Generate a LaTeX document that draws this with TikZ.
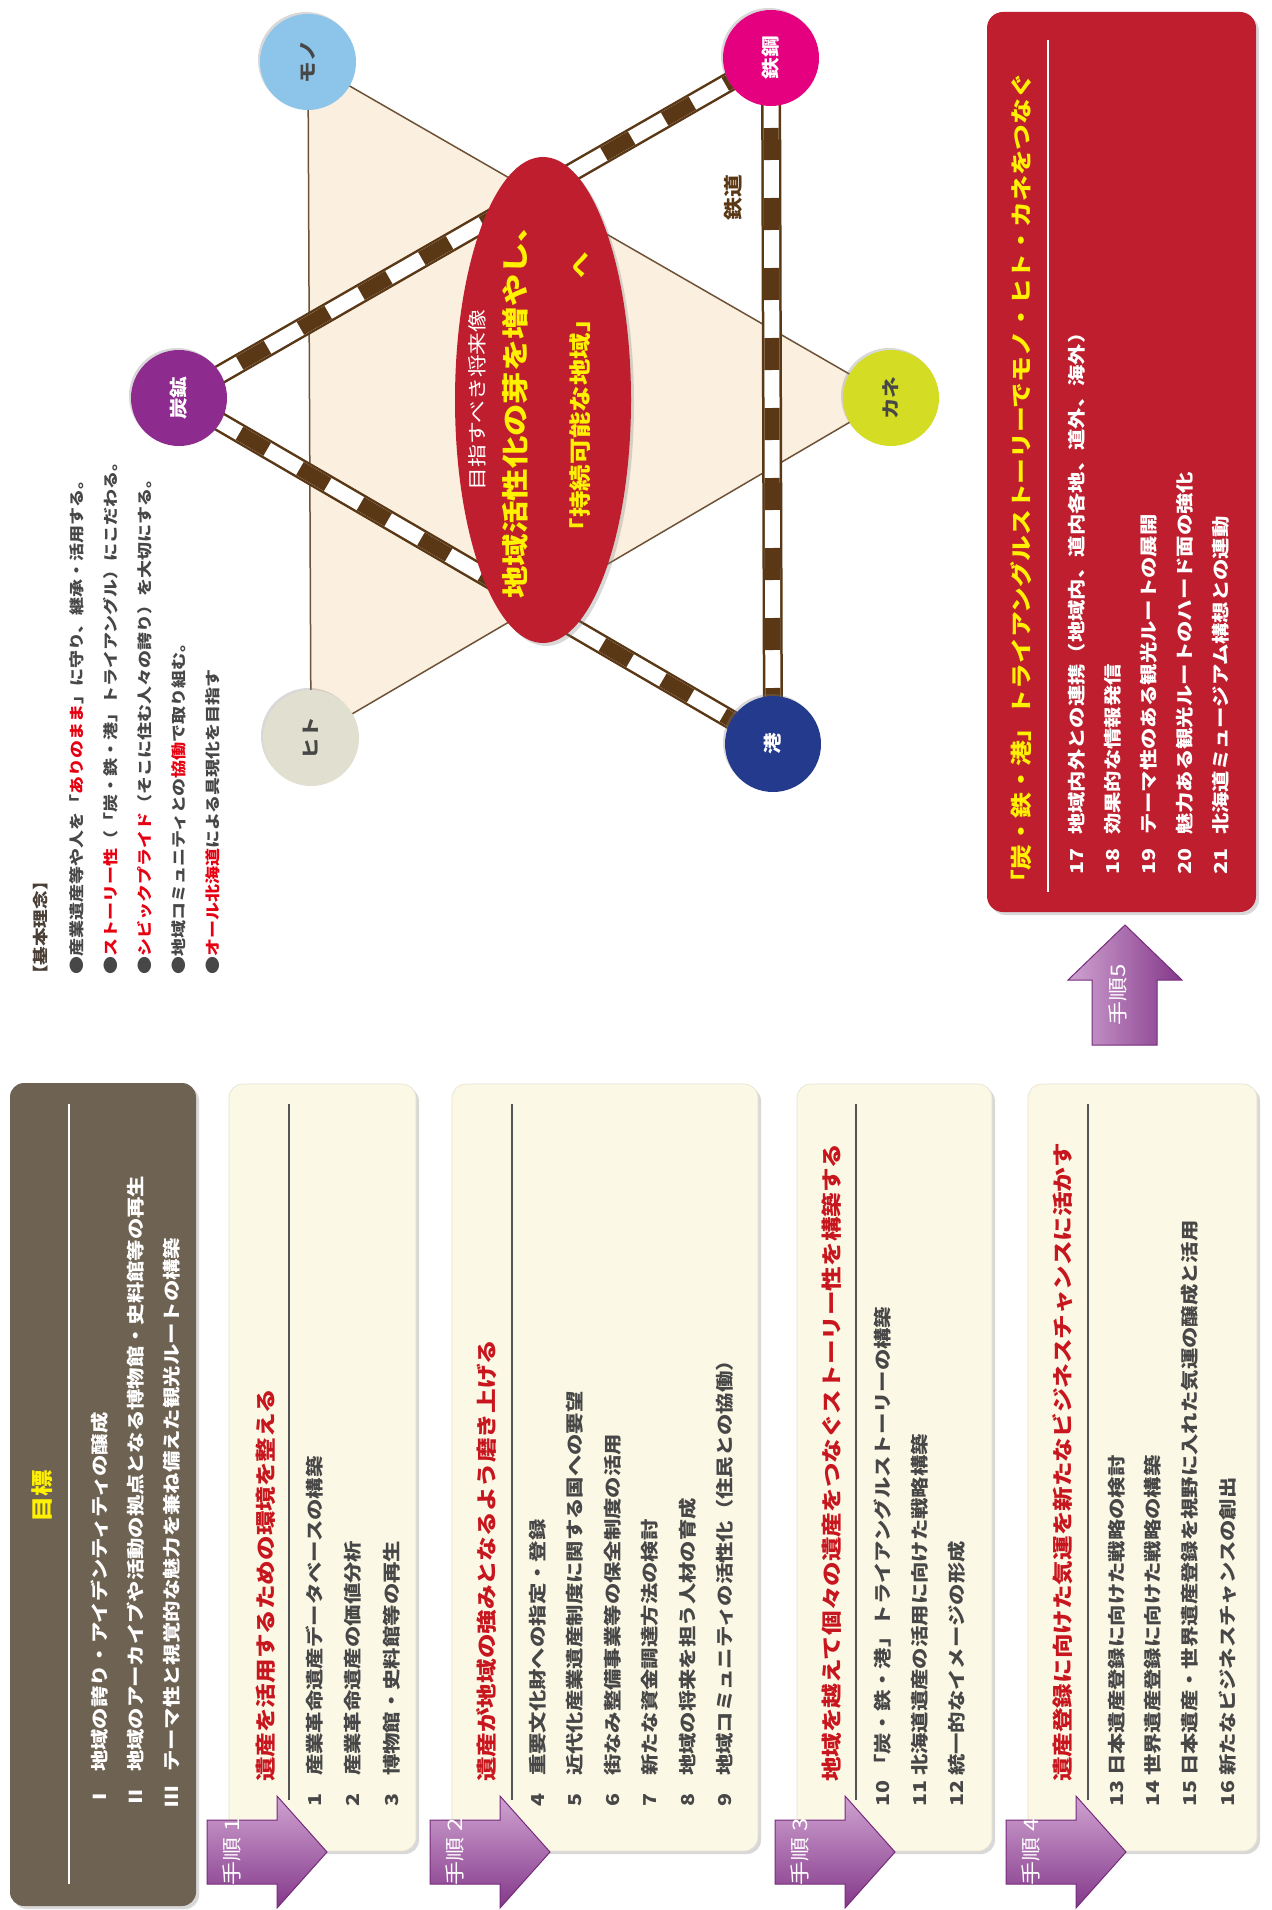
\documentclass[tikz,border=0pt]{standalone}
\usepackage{fontspec}
\setmainfont{Noto Sans CJK JP}[FakeStretch=1.2]
\usetikzlibrary{shapes.geometric,shadows}
\pgfdeclarelayer{back}
\pgfdeclarelayer{mid}
\pgfsetlayers{back,mid,main}
\definecolor{goalbg}{HTML}{6E6253}
\definecolor{creamfill}{HTML}{FCF8E6}
\definecolor{creamedge}{HTML}{E6E1CF}
\definecolor{titlered}{HTML}{C8161E}
\definecolor{itemgray}{HTML}{474747}
\definecolor{boxred}{HTML}{BE1E2D}
\definecolor{yel}{HTML}{FFF100}
\definecolor{railbrown}{HTML}{5A3816}
\definecolor{trifill}{HTML}{FBF0DF}
\definecolor{triedge}{HTML}{6E5238}
\definecolor{arrowlight}{HTML}{CFA3D1}
\definecolor{arrowdark}{HTML}{84388A}
\definecolor{arrowedge}{HTML}{762C7B}
\definecolor{cmono}{HTML}{8DC5EA}
\definecolor{ctekko}{HTML}{E4007F}
\definecolor{ctanko}{HTML}{8E2B8E}
\definecolor{ckane}{HTML}{D5DC24}
\definecolor{chito}{HTML}{E1DFCF}
\definecolor{cminato}{HTML}{243A8C}
\definecolor{brightred}{HTML}{E60012}
\definecolor{kihon}{HTML}{4A3F36}
\definecolor{sepgray}{HTML}{555555}
\newcommand\rowitem[4]{\node[itm] (#1n) at (#2,1807) {#3};\node[itm] (#1t) at (#2,1776) {#4};}
\newcommand\reditem[4]{\node[itm,text=white] (#1n) at (#2,875) {#3};\node[itm,text=white] (#1t) at (#2,835) {#4};}
\newcommand\steparrow[4]{%
  \path[arrowshade,top color=arrowlight,bottom color=arrowdark] (#2-22,#3-32) -- (#2+48,#3-32) -- (#2+48,#3-56) -- (#2+98,#3) -- (#2+48,#3+56) -- (#2+48,#3+32) -- (#2-22,#3+32) -- cycle;
  \node[arrowtext] (#1) at (#2+3,#3) {#4};}
\begin{document}
\begin{tikzpicture}[x=1pt,y=-1pt,
  itm/.style={rotate=90, anchor=west, inner sep=0pt, font=\bfseries\fontsize{17.8}{20}\selectfont, text=itemgray},
  ttl/.style={rotate=90, anchor=west, inner sep=0pt, font=\bfseries\fontsize{20.5}{24}\selectfont, text=titlered},
  kline/.style={rotate=90, anchor=west, inner sep=0pt, font=\bfseries\fontsize{15}{18}\selectfont, text=itemgray},
  cream/.style={rectangle, rounded corners=14pt, fill=creamfill, draw=creamedge, line width=0.6pt, inner sep=0pt, minimum height=767pt,
     drop shadow={shadow xshift=3pt, shadow yshift=-3pt, opacity=0.3}},
  sep/.style={draw=sepgray, line width=1.5pt},
  arrowshade/.style={draw=arrowedge, line width=1pt},
  arrowtext/.style={rotate=90, inner sep=0pt, text=white, font=\fontsize{20}{22}\selectfont},
  circ/.style={circle, minimum size=96pt, inner sep=0pt, rotate=90, font=\bfseries\fontsize{18}{20}\selectfont,
     drop shadow={shadow xshift=-2pt, shadow yshift=2pt, opacity=0.3}},
  rail/.style={draw=railbrown, line width=20pt,
     postaction={draw=white, line width=15pt},
     postaction={draw=railbrown, line width=15pt, dash pattern=on 32pt off 38pt}}]
\useasboundingbox (0,0) rectangle (1271,1910);
\begin{pgfonlayer}{back}
\fill[white] (0,0) rectangle (1271,1910);
\end{pgfonlayer}

% ---------- goal box ----------
\node[rectangle, rounded corners=14pt, fill=goalbg, inner sep=0pt, minimum width=186pt, minimum height=823pt,
  drop shadow={shadow xshift=3pt, shadow yshift=-3pt, opacity=0.3}] (goal) at (103,1494.5) {};
\node[rotate=90, inner sep=0pt, text=yel, font=\bfseries\fontsize{22}{24}\selectfont] (goalT) at (42,1496) {目標};
\draw[white, line width=1.6pt] (69,1104) -- (69,1884);
\node[itm,text=white] (g1n) at (100,1808) {Ⅰ};
\node[itm,text=white] (g1t) at (100,1772) {地域の誇り・アイデンティティの醸成};
\node[itm,text=white] (g2n) at (136,1808) {Ⅱ};
\node[itm,text=white] (g2t) at (136,1772) {地域のアーカイブや活動の拠点となる博物館・史料館等の再生};
\node[itm,text=white] (g3n) at (172,1808) {Ⅲ};
\node[itm,text=white] (g3t) at (172,1772) {テーマ性と視覚的な魅力を兼ね備えた観光ルートの構築};

% ---------- step boxes ----------
\node[cream, minimum width=187pt] (box1) at (322.5,1467.5) {};
\node[cream, minimum width=306pt] (box2) at (605,1467.5) {};
\node[cream, minimum width=195pt] (box3) at (894.5,1467.5) {};
\node[cream, minimum width=229pt] (box4) at (1142.5,1467.5) {};

\node[ttl] (b1T) at (266,1782) {遺産を活用するための環境を整える};
\draw[sep] (289,1104) -- (289,1800);
\rowitem{i1}{315}{1}{産業革命遺産データベースの構築}
\rowitem{i2}{353}{2}{産業革命遺産の価値分析}
\rowitem{i3}{392}{3}{博物館・史料館等の再生}

\node[ttl] (b2T) at (487,1782) {遺産が地域の強みとなるよう磨き上げる};
\draw[sep] (512,1104) -- (512,1800);
\rowitem{i4}{538}{4}{重要文化財への指定・登録}
\rowitem{i5}{575}{5}{近代化産業遺産制度に関する国への要望}
\rowitem{i6}{613}{6}{街なみ整備事業等の保全制度の活用}
\rowitem{i7}{650}{7}{新たな資金調達方法の検討}
\rowitem{i8}{688}{8}{地域の将来を担う人材の育成}
\rowitem{i9}{725}{9}{地域コミュニティの活性化（住民との協働）}

\node[ttl] (b3T) at (832,1782) {地域を越えて個々の遺産をつなぐストーリー性を構築する};
\draw[sep] (856,1104) -- (856,1800);
\rowitem{i10}{883}{10}{「炭・鉄・港」トライアングルストーリーの構築}
\rowitem{i11}{920}{11}{北海道遺産の活用に向けた戦略構築}
\rowitem{i12}{957}{12}{統一的なイメージの形成}

\node[ttl] (b4T) at (1063,1782) {遺産登録に向けた気運を新たなビジネスチャンスに活かす};
\draw[sep] (1088,1104) -- (1088,1800);
\rowitem{i13}{1117}{13}{日本遺産登録に向けた戦略の検討}
\rowitem{i14}{1153}{14}{世界遺産登録に向けた戦略の構築}
\rowitem{i15}{1190}{15}{日本遺産・世界遺産登録を視野に入れた気運の醸成と活用}
\rowitem{i16}{1228}{16}{新たなビジネスチャンスの創出}

\steparrow{s1}{229}{1852}{手順 1}
\steparrow{s2}{452}{1852}{手順 2}
\steparrow{s3}{797}{1852}{手順 3}
\steparrow{s4}{1028}{1852}{手順 4}

% ---------- step 5 ----------
\path[arrowshade, left color=arrowlight, right color=arrowdark] (1092,1045) -- (1092,980) -- (1068,980) -- (1125,925) -- (1182,980) -- (1157,980) -- (1157,1045) -- cycle;
\node[arrowtext] (s5) at (1118,995) {手順5};

\node[rectangle, rounded corners=16pt, fill=boxred, inner sep=0pt, minimum width=269pt, minimum height=900pt,
  drop shadow={shadow xshift=3pt, shadow yshift=-3pt, opacity=0.3}] (box5) at (1121.5,462) {};
\node[rotate=90, anchor=west, inner sep=0pt, text=yel, font=\bfseries\fontsize{21.5}{24}\selectfont] (box5T) at (1021,896) {「炭・鉄・港」トライアングルストーリーでモノ・ヒト・カネをつなぐ};
\draw[white, line width=1.5pt] (1048,40) -- (1048,892);
\reditem{r17}{1077}{17}{地域内外との連携（地域内、道内各地、道外、海外）}
\reditem{r18}{1113}{18}{効果的な情報発信}
\reditem{r19}{1149}{19}{テーマ性のある観光ルートの展開}
\reditem{r20}{1185}{20}{魅力ある観光ルートのハード面の強化}
\reditem{r21}{1221}{21}{北海道ミュージアム構想との連動}

% ---------- basic concept ----------
\node[rotate=90, anchor=west, inner sep=0pt, text=kihon, font=\bfseries\fontsize{15.5}{18}\selectfont] (kT) at (41,984) {【基本理念】};
\node[kline] (k1) at (77,975) {●産業遺産等や人を「\textcolor{brightred}{ありのまま}」に守り、継承・活用する。};
\node[kline] (k2) at (111,975) {●\textcolor{brightred}{ストーリー性}（「炭・鉄・港」トライアングル）にこだわる。};
\node[kline] (k3) at (145,975) {●\textcolor{brightred}{シビックプライド}（そこに住む人々の誇り）を大切にする。};
\node[kline] (k4) at (179,975) {●地域コミュニティとの\textcolor{brightred}{協働}で取り組む。};
\node[kline] (k5) at (213,975) {●\textcolor{brightred}{オール北海道}による具現化を目指す};

% ---------- triangle diagram ----------
\node[circ, fill=cmono, text=itemgray] (mono) at (308,62) {モノ};
\node[circ, fill=ctekko, text=white] (tekko) at (771,58) {鉄鋼};
\node[circ, fill=ctanko, text=white] (tanko) at (179,398) {炭鉱};
\node[circ, fill=ckane, text=itemgray] (kane) at (891,398) {カネ};
\node[circ, fill=chito, text=itemgray] (hito) at (311,738) {ヒト};
\node[circ, fill=cminato, text=white] (minato) at (773,744) {港};

\begin{pgfonlayer}{back}
\filldraw[fill=trifill, draw=triedge, line width=1.5pt] (mono.center) -- (kane.center) -- (hito.center) -- cycle;
\end{pgfonlayer}
\begin{pgfonlayer}{mid}
\draw[rail] (tanko.center) -- (tekko.center);
\draw[rail] (tanko.center) -- (minato.center);
\draw[rail] (tekko.center) -- (minato.center);
\end{pgfonlayer}

\node[rotate=90, inner sep=0pt, text=railbrown, font=\bfseries\fontsize{19}{20}\selectfont] (railL) at (733,198) {鉄道};

\node[ellipse, fill=boxred, minimum width=176pt, minimum height=486pt, inner sep=0pt,
  drop shadow={shadow xshift=3pt, shadow yshift=-3pt, opacity=0.3}] (vision) at (543,400) {};
\node[rotate=90, inner sep=0pt, text=white, font=\fontsize{19}{20}\selectfont] (v1) at (477,400) {目指すべき将来像};
\node[rotate=90, inner sep=0pt, text=yel, font=\bfseries\fontsize{27}{30}\selectfont] (v2) at (515,404) {地域活性化の芽を増やし、};
\node[rotate=90, inner sep=0pt, text=yel, font=\bfseries\fontsize{22}{24}\selectfont] (v3) at (580,398) {「持続可能な地域」\hspace{28pt}へ};
\end{tikzpicture}
\end{document}
